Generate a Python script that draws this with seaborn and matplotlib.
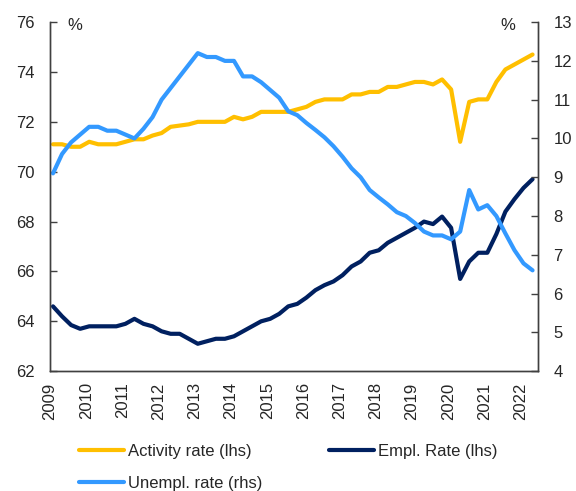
#Labour market chart - activity, employment and unemployment rates (quarterly)
import pandas as pd
import numpy as np
import matplotlib
matplotlib.use('Agg')
import matplotlib.pyplot as plt
import seaborn as sns

#quarterly data 2009Q1 - 2022Q2
years = list(range(2009, 2023))
activity = [71.1, 71.1, 71.0, 71.0, 71.2, 71.1, 71.1, 71.1,
            71.2, 71.3, 71.3, 71.45, 71.55, 71.8, 71.85, 71.9,
            72.0, 72.0, 72.0, 72.0, 72.2, 72.1, 72.2, 72.4,
            72.4, 72.4, 72.4, 72.5, 72.6, 72.8, 72.9, 72.9,
            72.9, 73.1, 73.1, 73.2, 73.2, 73.4, 73.4, 73.5,
            73.6, 73.6, 73.5, 73.7, 73.3, 71.2, 72.8, 72.9,
            72.9, 73.6, 74.1, 74.3, 74.5, 74.7]
employment = [64.6, 64.2, 63.85, 63.7, 63.8, 63.8, 63.8, 63.8,
              63.9, 64.1, 63.9, 63.8, 63.6, 63.5, 63.5, 63.3,
              63.1, 63.2, 63.3, 63.3, 63.4, 63.6, 63.8, 64.0,
              64.1, 64.3, 64.6, 64.7, 64.95, 65.25, 65.45, 65.6,
              65.85, 66.2, 66.4, 66.75, 66.85, 67.15, 67.35, 67.55,
              67.75, 68.0, 67.9, 68.2, 67.75, 65.7, 66.4, 66.75,
              66.75, 67.5, 68.4, 68.9, 69.35, 69.7]
unemployment = [9.1, 9.6, 9.9, 10.1, 10.3, 10.3, 10.2, 10.2,
                10.1, 10.0, 10.25, 10.55, 11.0, 11.3, 11.6, 11.9,
                12.2, 12.1, 12.1, 12.0, 12.0, 11.6, 11.6, 11.45,
                11.25, 11.05, 10.7, 10.6, 10.4, 10.22, 10.03, 9.8,
                9.53, 9.23, 9.0, 8.67, 8.48, 8.3, 8.1, 8.0,
                7.82, 7.6, 7.5, 7.5, 7.4, 7.6, 8.67, 8.17,
                8.28, 8.0, 7.55, 7.12, 6.78, 6.6]

#put it into a dataframe with a decimal year position for each quarter
data = pd.DataFrame({'activity': activity, 'employment': employment,
                     'unemployment': unemployment})
data['t'] = 2009 + np.arange(len(data)) * 0.25 + 0.08

sns.set_style("white")
plt.rcParams['font.family'] = ['Liberation Sans', 'DejaVu Sans']
plt.rcParams['font.size'] = 12

fig, ax = plt.subplots(figsize=(5.76, 4.91), dpi=100)
fig.subplots_adjust(left=0.087, right=0.934, top=0.955, bottom=0.244)
ax2 = ax.twinx()

yellow = '#FFBF00'
navy = '#002060'
blue = '#3399FF'

sns.lineplot(data=data, x='t', y='activity', ax=ax, color=yellow, lw=3,
             label='Activity rate (lhs)', legend=False)
sns.lineplot(data=data, x='t', y='employment', ax=ax, color=navy, lw=3,
             label='Empl. Rate (lhs)', legend=False)
sns.lineplot(data=data, x='t', y='unemployment', ax=ax2, color=blue, lw=3,
             label='Unempl. rate (rhs)', legend=False)

#axes limits and ticks
ax.set_xlim(2009, 2022.48)
ax.set_ylim(62, 76)
ax.set_yticks(range(62, 77, 2))
ax2.set_ylim(4, 13)
ax2.set_yticks(range(4, 14))
ax.set_xticks(years)
ax.set_xticklabels([str(y) for y in years], rotation=90)
ax.set_xlabel('')
ax.set_ylabel('')
ax2.set_ylabel('')

for a in (ax, ax2):
    a.spines['top'].set_visible(False)
    for s in a.spines.values():
        s.set_color('#404040')
        s.set_linewidth(1)
    a.tick_params(direction='in', length=5, width=1, color='#404040',
                  labelsize=12, pad=11)
ax.tick_params(axis='x', pad=8)
ax.tick_params(axis='y', left=True, right=False)
ax2.tick_params(axis='y', right=True, left=False)

#unit labels
ax.text(0.035, 0.99, '%', transform=ax.transAxes, ha='left', va='center', fontsize=12)
ax.text(0.953, 0.99, '%', transform=ax.transAxes, ha='right', va='center', fontsize=12)

#legend below the chart
h1, l1 = ax.get_legend_handles_labels()
h2, l2 = ax2.get_legend_handles_labels()
handles = [h1[0], h2[0], h1[1]]
labels = [l1[0], l2[0], l1[1]]
fig.legend(handles, labels, ncol=2, loc='upper left', bbox_to_anchor=(0.125, 0.11),
           frameon=False, handlelength=2.7, handletextpad=0.25, columnspacing=4.0,
           labelspacing=1.05, fontsize=12, borderaxespad=0)

plt.savefig('out.png', dpi=100)
